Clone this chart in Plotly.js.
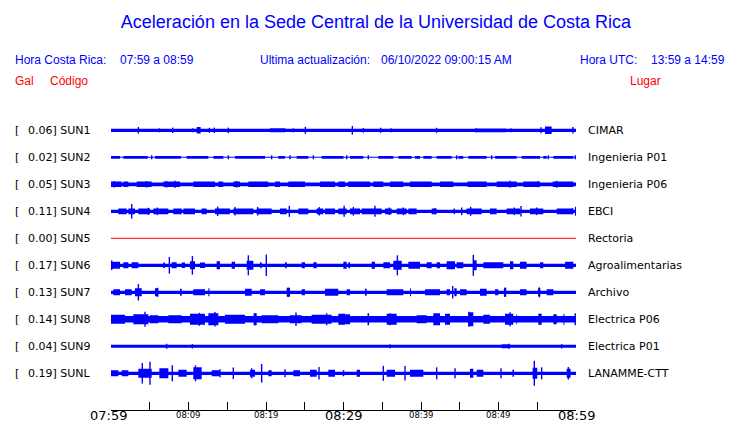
<!DOCTYPE html>
<html>
<head>
<meta charset="utf-8">
<script src="https://cdn.plot.ly/plotly-3.0.1.min.js"></script>
<style>html,body{margin:0;padding:0;background:#fff;}#chart{width:740px;height:423px;}</style>
</head>
<body>
<div id="chart"></div>
<script>
// ---------- DATA ----------
const titleText = 'Aceleración en la Sede Central de la Universidad de Costa Rica';
const localTime = '07:59 a 08:59';
const utcTime = '13:59 a 14:59';
const updated = '06/10/2022 09:00:15 AM';

const codes = ['SUN1','SUN2','SUN3','SUN4','SUN5','SUN6','SUN7','SUN8','SUN9','SUNL'];
const gal = [0.06, 0.02, 0.05, 0.11, 0.00, 0.17, 0.13, 0.14, 0.04, 0.19];
const places = ['CIMAR','Ingenieria P01','Ingenieria P06','EBCI','Rectoria','Agroalimentarias','Archivo','Electrica P06','Electrica P01','LANAMME-CTT'];

// minutes after 07:59
const tickMinutes = [0,5,10,15,20,25,30,35,40,45,50,55,60];
const tickLabels  = ['07:59','','08:09','','08:19','','08:29','','08:39','','08:49','','08:59'];
const majorTicks  = ['07:59','08:29','08:59'];

// background noise half-amplitude of each trace
const noise = [1.6, 0.5, 1.9, 1.6, 0, 1.6, 1.6, 3.2, 1.5, 1.6];

// bursts: [start minute, end minute, half amplitude]; spikes: [minute, half amplitude]
const sun1Bursts = [[11.05,11.57,3.3],[20.5,22.5,2.0],[47.2,51.0,1.9],[56.0,56.86,3.8]];
const sun1Spikes = [[3.53,3.3],[6.24,2],[7.96,2.7],[10.54,2],[12.69,2.5],[13.33,2.7],[15.14,2.7],[23.53,2],[25.08,3.5],[31.14,4.3],[32.56,2.3],[34.8,2.5],[36.13,2],[42.02,2.5],[47.1,2.2],[51.61,2],[55.48,3],[59.6,3.3]];

const sun2Bursts = [[0,1.16,1.4],[1.59,4.73,1.4],[5.68,9.03,1.4],[9.76,12.56,1.4],[13.2,14.49,1.4],[16.0,19.87,1.4],[21.59,22.45,1.4],[23.96,25.46,1.4],[27.18,30.0,1.4],[30.84,32.56,1.4],[34.49,36.43,1.4],[37.08,38.8,1.4],[39.23,39.87,1.4],[40.3,41.38,1.4],[42.02,43.96,1.4],[44.82,45.46,1.4],[46.11,48.47,1.4],[49.55,52.34,1.4],[52.99,55.35,1.4],[55.78,56.22,1.4],[57.08,59.66,1.4]];
const sun2Spikes = [[5.25,2],[15.14,2],[20.73,2],[23.1,2],[26.11,2],[30.41,2],[33.2,2],[44.6,2],[49.12,2],[56.43,2],[59.9,2]];

const sun3Bursts = [[0,1.38,2.8],[1.59,2.24,2.8],[3.31,5.25,2.8],[6.75,8.9,2.8],[10.62,13.42,2.8],[13.85,14.49,2.8],[15.78,16.65,2.8],[17.72,20.3,2.8],[21.16,21.81,2.8],[22.88,25.03,2.8],[26.97,28.9,2.8],[29.33,30.2,2.8],[30.62,33.42,2.8],[33.85,35.14,2.8],[36.0,37.72,2.8],[38.58,41.38,2.8],[42.45,44.17,2.8],[46.0,48.47,2.8],[49.76,52.34,2.8],[53.2,55.35,2.8],[57.0,59.66,2.8]];
const sun3Spikes = [[0.43,3.3],[4.6,3.3],[7.18,3.3],[8.26,3.5],[16.22,3.3],[51.5,3.5],[55.14,3.0],[57.5,3.5]];

const sun4Bursts = [[0.95,2.02,2.9],[2.24,3.1,2.9],[3.53,5.03,2.9],[5.46,7.4,2.9],[8.04,9.12,2.9],[9.33,10.84,2.9],[11.7,12.34,2.9],[13.42,15.35,2.9],[15.78,18.37,2.9],[18.8,20.73,2.9],[21.81,22.67,2.9],[24.17,25.46,2.9],[26.54,27.4,2.9],[27.61,28.9,2.9],[29.33,30.4,2.9],[30.84,32.13,2.9],[32.34,34.92,2.9],[35.35,36.22,2.9],[36.86,38.15,2.9],[38.37,39.44,2.9],[41.38,42.02,2.9],[45.89,47.83,2.9],[48.9,49.76,2.9],[51.05,52.77,2.9],[54.06,55.78,2.9],[57.51,59.66,2.9]];
const sun4Spikes = [[2.67,7.3],[4.82,3.5],[5.98,3.8],[13.76,4.7],[16.0,4.3],[18.92,4.3],[23.01,5.5],[26.88,4.2],[30.08,5.5],[31.27,4.3],[34.06,5.5],[35.91,3.7],[37.72,3.8],[41.81,3.0],[44.3,2.8],[45.25,3.8],[46.41,4.5],[52.04,3.8],[52.9,5.3],[54.92,3.8],[59.53,3.0],[59.95,4.5]];

const sun6Bursts = [[0,1.16,3.5],[1.59,2.24,3],[2.67,3.53,3],[6.75,6.97,2.8],[7.83,8.47,3],[9.12,9.55,2.8],[10.19,10.84,4],[11.48,12.13,2.8],[13.63,14.06,4],[15.57,16.0,3.5],[17.51,18.37,4.5],[19.23,19.44,3],[22.45,22.67,3],[24.6,25.03,3],[26.11,26.54,3],[29.98,30.41,3.5],[30.62,30.84,3],[33.63,34.06,3.5],[35.14,36.0,3],[36.43,37.51,4.5],[38.37,39.87,3.5],[40.73,41.38,3],[42.02,42.45,3],[43.31,44.39,4],[44.6,45.46,3],[46.75,47.18,5],[48.04,50.62,3],[51.48,51.91,4],[52.77,53.63,3.5],[55.35,55.78,3],[58.59,59.66,3.5]];
const sun6Spikes = [[0.09,4.8],[7.53,8.3],[10.5,9.2],[17.72,10],[20.04,10.7],[36.95,10],[46.75,10.5]];

const sun7Bursts = [[0.3,1.16,3],[1.81,2.67,3],[3.1,3.96,4],[5.68,6.11,4],[8.9,9.12,3.5],[10.62,12.13,3],[12.56,12.7,4],[17.29,18.15,3.5],[19.23,19.87,3],[22.67,23.1,4.5],[24.6,25.03,3],[27.61,29.33,3.5],[30.41,30.84,3],[32.77,32.99,3.5],[35.57,37.72,3],[38.58,38.7,4],[40.52,42.45,3],[43.31,43.74,3],[44.3,44.6,4],[45.03,45.89,3],[47.61,48.47,3.5],[49.55,49.98,3],[50.7,51.0,4.5],[52.77,53.63,3],[55.1,55.4,4],[56.22,57.08,3]];
const sun7Spikes = [[3.53,8.2],[6.0,4.5],[22.88,4.5],[44.09,6.2],[50.84,4.5],[55.27,5]];

const sun8Bursts = [[0,1.81,4.5],[2.88,4.82,5],[5.03,6.11,4],[7.4,9.12,4],[10.19,12.13,5.5],[12.56,13.85,6],[14.71,17.29,4.5],[18.4,18.8,6],[19.44,21.59,4],[23.1,24.6,4],[25.89,28.47,4.5],[29.33,30.19,5.5],[29.55,30.84,5],[33.1,33.3,6],[35.57,36.86,5.5],[39.44,40.73,4],[41.59,42.45,6],[43.1,43.74,5.5],[46.11,46.75,7],[48.04,48.9,4.5],[50.84,51.91,5.5],[52.3,52.4,5],[55.14,55.57,5.5],[57.08,57.51,5],[58.37,58.5,5.5]];
const sun8Spikes = [[4.39,7.5],[11.4,6.5],[13.42,7.3],[18.6,6],[23.87,6.7],[27.83,6],[36.0,6],[46.19,7.5],[51.48,7],[55.4,5.5],[59.9,6]];

const sun9Bursts = [[50.4,51.5,2.0]];
const sun9Spikes = [[7.18,2.5],[10.5,2.2],[36.0,2],[51.35,2.5],[58.15,2.2]];

const sunlBursts = [[0,0.95,3],[1.38,2.24,3],[3.53,5.25,4.5],[6.24,7.4,5],[8.69,9.76,3.5],[10.62,11.7,6],[12.99,14.06,3],[17.94,18.58,3.5],[20.3,20.73,3],[23.53,24.39,3],[25.68,26.54,3.5],[28.04,28.9,3.5],[29.9,30.1,3],[31.7,32.13,3.5],[35.57,36.65,3.5],[38.58,40.3,3.5],[46.32,46.75,4.5],[47.18,48.04,3.5],[51.8,52.0,3.5],[54.4,55.0,5.5],[58.8,59.3,4.5]];
const sunlSpikes = [[4.04,10.3],[5.03,11.5],[7.91,8],[10.9,8],[14.06,4],[15.78,5.8],[18.15,5],[19.44,9.3],[22.45,4],[26.84,6.2],[35.14,7.5],[37.94,7.3],[42.02,6],[44.39,5],[50.32,5],[54.62,12.5],[55.57,6],[59.01,6.3]];

const allBursts = [sun1Bursts, sun2Bursts, sun3Bursts, sun4Bursts, [], sun6Bursts, sun7Bursts, sun8Bursts, sun9Bursts, sunlBursts];
const allSpikes = [sun1Spikes, sun2Spikes, sun3Spikes, sun4Spikes, [], sun6Spikes, sun7Spikes, sun8Spikes, sun9Spikes, sunlSpikes];

// ---------- LAYOUT CONSTANTS ----------
const W = 740, H = 423;
const PL = 111, PR = 576, PT = 110, PB = 410;
const ROW0 = 279.7, ROWSTEP = 27;     // y-axis units = pixels above plot bottom
const BLUE = '#0000ff', RED = '#ff0000';
const HEAD_FONT = 'Liberation Sans, Arial, sans-serif';
const LBL_FONT = 'DejaVu Sans, sans-serif';
const px = x => (x - PL) / (PR - PL);
const py = y => (PB - y) / (PB - PT);

// ---------- TRACES ----------
const traces = [];
codes.forEach((code, i) => {
  const c = ROW0 - i * ROWSTEP;
  if (noise[i] === 0) {
    traces.push({type:'scatter', mode:'lines', x:[0,60], y:[c,c], line:{color:RED, width:1}, hoverinfo:'skip', showlegend:false});
    return;
  }
  const rx = [], ry = [];
  const rects = [[0,60,noise[i]]].concat(allBursts[i]);
  rects.forEach(([t0,t1,a]) => {
    rx.push(t0,t1,t1,t0,t0,null);
    ry.push(c-a,c-a,c+a,c+a,c-a,null);
  });
  traces.push({type:'scatter', mode:'lines', x:rx, y:ry, fill:'toself', fillcolor:BLUE,
    line:{color:BLUE, width:0}, hoverinfo:'skip', showlegend:false});
  const sx = [], sy = [];
  allSpikes[i].forEach(([t,a]) => { sx.push(t,t,null); sy.push(c-a,c+a,null); });
  traces.push({type:'scatter', mode:'lines', x:sx, y:sy, line:{color:BLUE, width:1.4}, hoverinfo:'skip', showlegend:false});
});

// ---------- ANNOTATIONS ----------
const ann = [];
function txt(text, x, y, opts) {
  ann.push(Object.assign({text, xref:'paper', yref:'paper', x:px(x), y:py(y), xanchor:'left', yanchor:'middle',
    showarrow:false, borderpad:0, font:{family:HEAD_FONT, size:12, color:BLUE}}, opts || {}));
}
txt('Hora Costa Rica:', 14, 60);
txt(localTime, 119, 60);
txt('Ultima actualización:', 259, 60);
txt(updated, 380, 60);
txt('Hora UTC:', 579, 60);
txt(utcTime, 726, 60, {xanchor:'right'});
txt('Gal', 14, 81, {font:{family:HEAD_FONT, size:12, color:RED}});
txt('Código', 49, 81, {font:{family:HEAD_FONT, size:12, color:RED}});
txt('Lugar', 629, 81, {font:{family:HEAD_FONT, size:12, color:RED}});

codes.forEach((code, i) => {
  const yy = 130.3 + i * ROWSTEP;
  const lf = {family:LBL_FONT, size:11, color:'#000'};
  txt('[', 14, yy, {font:lf});
  txt(gal[i].toFixed(2) + '] ' + code, 27, yy, {font:lf});
  txt(places[i], 587, yy, {font:lf});
});

tickMinutes.forEach((m, k) => {
  const lab = tickLabels[k];
  if (!lab) return;
  const big = majorTicks.includes(lab);
  ann.push({text:lab, xref:'x', yref:'paper', x:m, y:py(big ? 415.5 : 415), xanchor:'center', yanchor:'middle',
    xshift: k === 0 ? -3 : 0,
    showarrow:false, borderpad:0, font:{family:LBL_FONT, size: big ? 13 : 8.5, color:'#000', weight:'normal'}});
});

const layout = {
  width: W, height: H,
  margin: {l:PL, r:W-PR, t:PT, b:H-PB, pad:0},
  paper_bgcolor:'#fff', plot_bgcolor:'#fff',
  showlegend:false,
  title: {text:titleText, font:{family:HEAD_FONT, size:18, color:BLUE},
    x:376/W, xanchor:'center', xref:'container', y:1-22/H, yanchor:'middle', yref:'container'},
  xaxis: {range:[0,60], showgrid:false, zeroline:false, showline:true, linecolor:'#000', linewidth:1,
    ticks:'inside', tickvals:tickMinutes, ticklen:8, tickwidth:1, tickcolor:'#000', showticklabels:false, fixedrange:true},
  yaxis: {range:[0,PB-PT], showgrid:false, zeroline:false, showline:false, showticklabels:false, ticks:'', fixedrange:true},
  annotations: ann
};

Plotly.newPlot('chart', traces, layout, {staticPlot:true, displayModeBar:false});
</script>
</body>
</html>
